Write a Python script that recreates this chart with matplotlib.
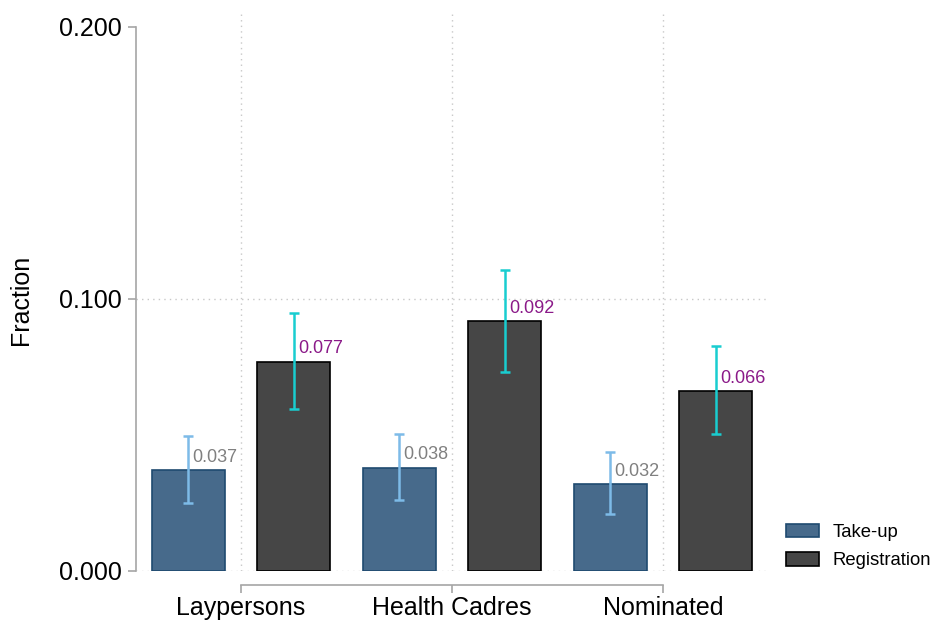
import matplotlib
matplotlib.use("Agg")
import matplotlib.pyplot as plt
import numpy as np
from matplotlib.patches import Patch

plt.rcParams['font.family'] = ['Liberation Sans', 'DejaVu Sans']

categories = ["Laypersons", "Health Cadres", "Nominated"]
takeup = [0.037, 0.038, 0.032]
takeup_lo = [0.0250, 0.0261, 0.0210]
takeup_hi = [0.0496, 0.0504, 0.0438]
registration = [0.077, 0.092, 0.066]
reg_lo = [0.0596, 0.0732, 0.0504]
reg_hi = [0.0949, 0.1107, 0.0827]
yticks = [0.0, 0.1, 0.2]

fig = plt.figure(figsize=(9.33, 6.22), dpi=100)
ax = fig.add_axes([136/933, 1-571/622, (768-136)/933, (571-13)/622])

x = np.arange(len(categories))
off = 0.25
w = 0.347

c_take = "#476a8b"
c_take_edge = "#1f4a70"
c_reg = "#464646"
c_err_take = "#7dbbe8"
c_err_reg = "#19cdd0"
c_lab_take = "#808080"
c_lab_reg = "#8b1a89"

ax.bar(x - off, takeup, width=w, color=c_take, edgecolor=c_take_edge, linewidth=1.2, zorder=3)
ax.bar(x + off, registration, width=w, color=c_reg, edgecolor="black", linewidth=1.2, zorder=3)

t = np.array(takeup); r = np.array(registration)
ax.errorbar(x - off, t, yerr=[t - np.array(takeup_lo), np.array(takeup_hi) - t],
            fmt='none', ecolor=c_err_take, elinewidth=1.8, capsize=3.6, capthick=1.8, zorder=4)
ax.errorbar(x + off, r, yerr=[r - np.array(reg_lo), np.array(reg_hi) - r],
            fmt='none', ecolor=c_err_reg, elinewidth=1.8, capsize=3.6, capthick=1.8, zorder=4)

for xi, v in zip(x - off, takeup):
    ax.annotate(f"{v:.3f}", (xi, v), xytext=(3, 3), textcoords='offset points',
                ha='left', va='bottom', fontsize=13, color=c_lab_take, zorder=5)
for xi, v in zip(x + off, registration):
    ax.annotate(f"{v:.3f}", (xi, v), xytext=(3, 3), textcoords='offset points',
                ha='left', va='bottom', fontsize=13, color=c_lab_reg, zorder=5)

ax.set_xlim(-0.498, 2.498)
ax.set_ylim(0, 0.2051)

# grid
for yv in [0.0, 0.1]:
    ax.axhline(yv, color="#c8c8c8", linestyle=(0, (1, 3)), linewidth=1.0, zorder=1)
for xv in x:
    ax.axvline(xv, color="#c8c8c8", linestyle=(0, (1, 3)), linewidth=1.0, zorder=1)

spine_c = "#a6a6a6"
for s in ['top', 'right']:
    ax.spines[s].set_visible(False)
ax.spines['left'].set_color(spine_c)
ax.spines['left'].set_linewidth(1.2)
ax.spines['left'].set_bounds(0, 0.2)
ax.spines['bottom'].set_color(spine_c)
ax.spines['bottom'].set_linewidth(1.2)
ax.spines['bottom'].set_position(('outward', 10))
ax.spines['bottom'].set_bounds(0, 2)

ax.set_yticks(yticks)
ax.set_yticklabels([f"{v:.3f}" for v in yticks], fontsize=18)
ax.set_xticks(x)
ax.set_xticklabels(categories, fontsize=18)
ax.tick_params(axis='y', direction='out', length=6, width=1.2, color=spine_c, pad=4)
ax.tick_params(axis='x', direction='out', length=6, width=1.2, color=spine_c, pad=2)

ax.set_ylabel("Fraction", fontsize=18)
ax.yaxis.set_label_coords((33-136)/632, (571-300)/558)

handles = [Patch(facecolor=c_take, edgecolor=c_take_edge, linewidth=1.2, label="Take-up"),
           Patch(facecolor=c_reg, edgecolor="black", linewidth=1.2, label="Registration")]
fig.legend(handles=handles, loc='upper left', bbox_to_anchor=(780/933, 1-518/622),
           frameon=False, fontsize=13.3, handlelength=1.8, handleheight=0.78,
           handletextpad=0.75, labelspacing=0.6, borderpad=0.3, borderaxespad=0)

fig.savefig("out.png", dpi=100)
